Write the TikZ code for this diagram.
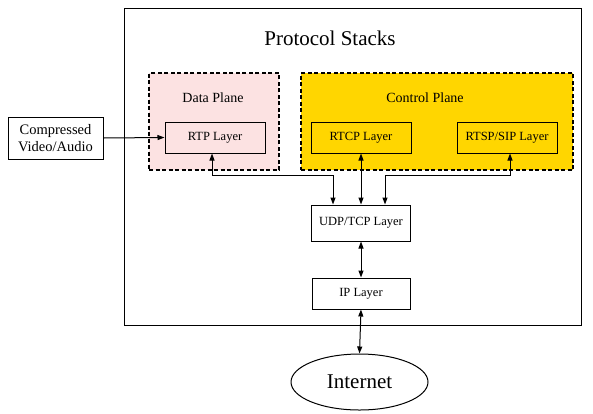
\documentclass[tikz,border=0pt]{standalone}
\usepackage{fontspec}
\setmainfont{Liberation Serif}
\usetikzlibrary{arrows.meta,shapes.geometric}
\definecolor{pinkfill}{RGB}{252,226,226}
\definecolor{goldfill}{RGB}{255,214,0}
\tikzset{
  layer/.style={draw, line width=1pt, minimum width=100pt, minimum height=31pt, inner sep=0pt, font=\fontsize{12.5}{14}\selectfont},
  plane/.style={draw, line width=1.1pt, dash pattern=on 4pt off 2.5pt},
  arr/.style={line width=1pt, {Triangle[length=7pt,width=5pt]}-{Triangle[length=7pt,width=5pt]}},
  sarr/.style={line width=1pt, -{Triangle[length=7pt,width=5pt]}},
  lbl/.style={font=\fontsize{14}{16}\selectfont}
}
\begin{document}
\begin{tikzpicture}[x=1pt,y=-1pt]
\useasboundingbox (0,0) rectangle (593,413);
\node[draw, line width=1pt, minimum width=457pt, minimum height=317pt, inner sep=0pt] (outer) at (352.5,166.5) {};
\node[font=\fontsize{21}{24}\selectfont] (title) at (330,38) {Protocol Stacks};
\node[plane, fill=pinkfill, minimum width=130pt, minimum height=97pt, inner sep=0pt] (dp) at (214,121.5) {};
\node[plane, fill=goldfill, minimum width=272pt, minimum height=97pt, inner sep=0pt] (cp) at (437,121.5) {};
\node[lbl] (dpl) at (213,98) {Data Plane};
\node[lbl] (cpl) at (425,98) {Control Plane};
\node[layer, fill=pinkfill] (rtp) at (215,137.5) {RTP Layer};
\node[layer] (rtcp) at (361,137.5) {RTCP Layer};
\node[layer] (rtsp) at (507,137.5) {RTSP/SIP Layer};
\node[draw, line width=1pt, fill=white, minimum width=95pt, minimum height=42pt, inner sep=0pt, align=center, font=\fontsize{14.5}{17}\selectfont] (comp) at (55.5,138) {Compressed\\Video/Audio};
\node[layer, fill=white, minimum width=99pt, minimum height=36pt] (udp) at (361,223) {UDP/TCP Layer};
\node[layer, fill=white, minimum width=98pt] (ip) at (361,293.5) {IP Layer};
\node[draw, ellipse, line width=1pt, fill=white, minimum width=137pt, minimum height=56pt, inner sep=0pt, font=\fontsize{21}{24}\selectfont] (inet) at (359.5,382) {Internet};
\coordinate (bus) at (0,175);
\coordinate (ul) at ([xshift=-28pt]udp.north);
\coordinate (ur) at ([xshift=24pt]udp.north);
\coordinate (rl) at ([xshift=-3pt]rtp.south);
\coordinate (sr) at ([xshift=3pt]rtsp.south);
\draw[sarr] (comp.east) -- (rtp.west);
\draw[arr] (rl) -- (rl |- bus) -- (ul |- bus) -- (ul);
\draw[arr] (rtcp.south) -- (udp.north);
\draw[arr] (sr) -- (sr |- bus) -- (ur |- bus) -- (ur);
\draw[arr] (udp.south) -- (ip.north);
\draw[arr] (ip.south) -- (inet.north);
\end{tikzpicture}
\end{document}
